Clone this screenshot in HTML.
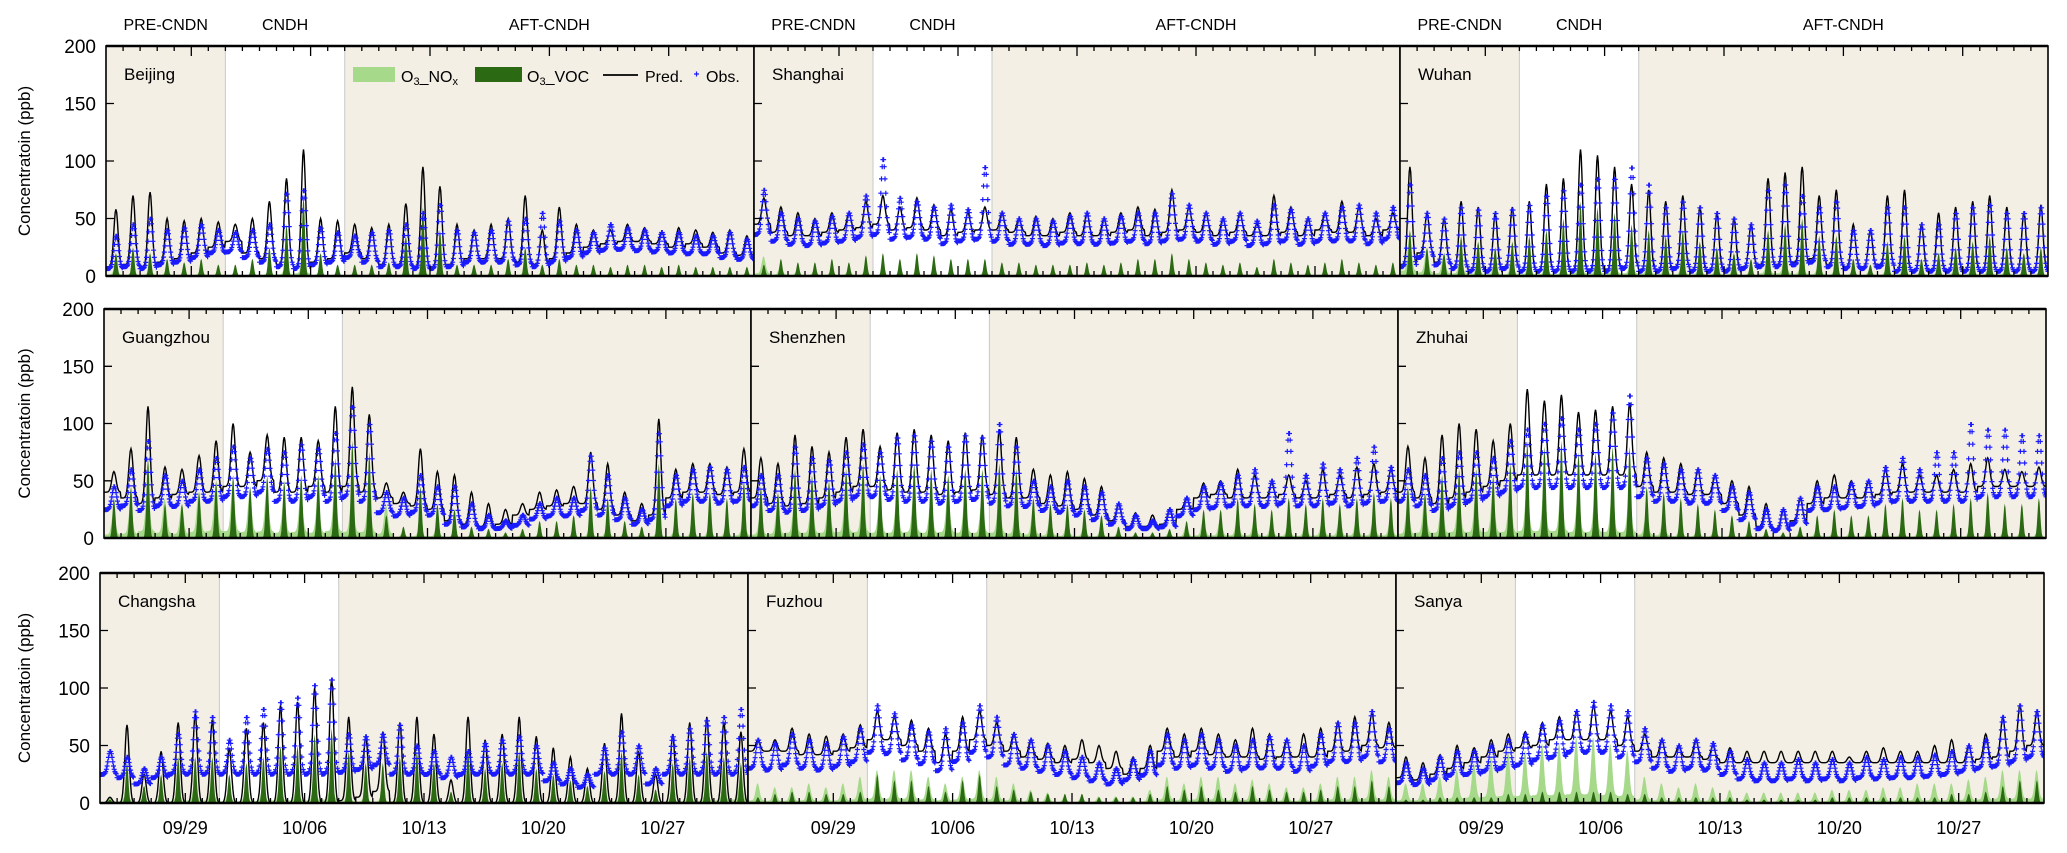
<!DOCTYPE html>
<html><head><meta charset="utf-8">
<style>
html,body{margin:0;padding:0;background:#fff;}
svg{display:block;font-family:"Liberation Sans",sans-serif;}
</style></head>
<body>
<svg id="chart" width="2067" height="853" viewBox="0 0 2067 853" xmlns="http://www.w3.org/2000/svg"></svg>
<script>
// ---- data (daily values, 09/24 .. 10/31, 38 days) ----
const cities = ["Beijing","Shanghai","Wuhan","Guangzhou","Shenzhen","Zhuhai","Changsha","Fuzhou","Sanya"];
const dateLabels = ["09/29","10/06","10/13","10/20","10/27"];
const dateTickDays = [5,12,19,26,33];
const yTicks = [0,50,100,150,200];
const periodLabels = ["PRE-CNDN","CNDH","AFT-CNDH"];
const periodStartDay = 7, periodEndDay = 14, nDays = 38;

const predPeak = [
 [58,70,73,50,48,50,47,45,50,65,85,110,50,48,45,42,45,63,95,78,45,40,45,50,70,40,60,45,40,40,45,42,38,42,40,38,40,35],
 [68,60,55,50,55,55,65,70,60,68,62,58,55,60,55,50,52,50,55,55,50,55,60,58,75,60,55,50,55,45,70,60,50,55,65,60,50,55],
 [95,55,50,65,60,55,60,65,80,85,110,105,95,80,75,65,70,60,55,50,45,85,90,95,70,75,45,40,70,75,45,55,60,65,70,60,55,62],
 [58,78,115,62,60,72,85,100,75,90,88,88,85,115,132,108,48,40,78,58,55,40,30,25,30,40,42,45,75,65,40,30,104,60,65,65,62,78],
 [70,65,90,80,75,88,95,80,92,95,90,85,92,90,95,88,60,55,58,52,45,30,22,20,25,35,48,50,60,55,48,55,50,60,55,62,65,60],
 [80,70,90,100,95,85,100,130,120,125,110,112,115,118,75,70,65,60,55,50,45,30,25,35,50,55,50,50,60,65,55,55,60,65,70,60,58,62],
 [5,68,25,45,70,78,72,48,65,70,85,88,100,108,75,58,62,70,75,60,20,75,55,60,75,58,48,40,30,52,78,45,25,60,70,75,70,62],
 [55,55,65,60,58,60,68,80,75,72,65,60,75,80,70,60,55,52,50,55,50,45,40,50,65,60,65,60,55,65,60,55,60,65,70,75,78,70],
 [40,35,42,50,48,55,60,62,70,75,80,85,80,75,60,55,50,55,50,48,45,45,45,45,45,45,40,45,48,45,45,50,55,50,60,75,85,80]
];
const obsPeak = [
 [35,45,50,40,42,45,40,38,40,45,72,75,42,38,35,38,40,45,55,62,40,38,40,48,50,55,48,40,38,45,42,40,38,38,35,35,38,32],
 [75,55,50,48,52,55,70,102,68,65,60,62,58,95,55,50,50,48,52,55,50,52,55,55,72,62,55,50,55,48,62,58,50,55,60,62,55,60],
 [80,55,50,60,58,55,58,62,70,75,80,85,85,95,80,60,65,60,55,50,45,75,80,70,60,65,40,40,60,60,45,45,55,60,62,55,55,60],
 [45,60,85,55,50,60,70,80,70,78,75,82,78,92,115,100,40,35,55,45,45,30,20,15,20,30,35,35,72,55,35,25,92,55,60,62,60,62],
 [55,55,80,70,68,75,82,75,88,90,85,80,90,88,100,80,50,45,50,45,40,30,20,15,25,35,45,48,55,60,50,92,55,65,60,70,80,62],
 [60,55,70,75,75,70,85,95,100,105,95,100,110,125,70,65,60,60,55,45,40,25,25,35,45,45,48,50,62,70,60,75,75,100,95,95,90,90],
 [45,40,30,40,60,80,75,55,75,82,88,92,103,108,60,58,60,68,50,45,40,45,52,55,58,50,35,30,25,48,62,50,30,58,65,72,75,82],
 [55,52,60,55,52,58,65,85,78,68,62,65,70,85,75,60,55,50,45,40,35,30,38,45,60,55,60,55,50,55,58,55,50,60,70,70,80,65],
 [35,30,40,45,45,50,55,60,68,72,80,88,85,80,65,55,50,55,52,45,38,35,35,38,35,38,35,40,38,40,40,42,45,50,55,75,85,80]
];
const basePred = [
 [8,10,8,12,15,20,25,30,20,15,10,8,12,15,20,15,10,10,8,8,10,15,15,15,12,10,15,20,25,28,30,30,28,25,28,25,20,18],
 [45,38,35,35,38,40,42,45,40,42,40,35,38,40,40,38,35,35,38,35,35,38,40,35,38,40,38,35,38,35,35,38,35,40,38,38,35,40],
 [10,20,12,8,5,5,8,5,5,5,5,5,5,8,5,5,8,5,5,5,8,10,10,12,15,10,8,8,10,5,5,5,5,5,5,5,5,5],
 [40,35,30,35,38,40,40,45,45,50,40,40,45,40,45,40,35,30,28,25,15,12,10,12,20,25,28,30,30,25,20,15,20,35,40,40,38,40],
 [35,30,28,30,35,40,45,45,42,40,40,38,40,42,38,35,35,30,28,25,20,15,10,10,12,25,35,38,35,35,35,38,35,35,38,35,38,40],
 [40,35,30,35,40,45,50,55,55,55,55,55,55,55,45,40,40,38,38,30,20,10,8,15,30,35,35,35,38,40,40,40,40,40,45,45,45,45],
 [0,0,0,0,0,0,0,0,0,0,0,0,0,0,2,5,10,0,0,0,0,0,0,0,0,0,0,0,0,0,0,0,0,0,0,0,0,0],
 [45,45,45,42,42,45,48,55,55,50,45,35,45,55,50,45,40,38,35,38,35,30,25,30,45,40,45,42,40,40,38,40,40,40,45,45,50,48],
 [22,20,25,30,35,40,45,48,50,55,55,55,55,50,45,40,40,40,38,35,35,35,35,35,35,35,35,35,35,35,35,35,35,35,38,40,45,50]
];
const noxPeak = [
 [8,5,5,5,3,5,3,3,3,5,10,15,5,3,3,3,3,5,10,5,3,3,3,3,5,3,3,3,3,3,3,3,3,3,3,3,3,3],
 [15,8,5,5,5,5,5,3,3,3,3,3,3,5,3,3,3,3,3,3,3,3,3,3,3,3,3,3,3,3,3,3,3,3,3,3,3,3],
 [30,20,15,15,10,10,10,10,10,10,15,15,15,15,12,10,10,8,8,8,5,15,15,12,10,8,5,5,8,8,5,5,8,8,8,8,5,5],
 [20,25,40,30,25,35,40,40,35,38,30,35,30,40,35,35,25,5,10,10,5,3,3,3,5,5,5,5,10,10,5,5,10,10,10,10,10,15],
 [20,25,30,30,30,35,35,30,30,35,30,35,30,30,30,25,20,15,12,10,8,5,3,3,5,10,15,15,15,15,12,12,12,15,15,15,15,15],
 [25,30,30,35,35,35,35,40,40,40,35,35,35,35,20,15,10,8,8,5,5,3,3,5,8,8,8,8,8,8,8,8,8,8,8,8,8,8],
 [5,10,5,5,10,15,15,10,10,12,15,15,15,20,10,8,8,10,8,5,3,5,5,5,8,5,3,3,3,5,10,5,3,8,10,12,15,20],
 [15,12,12,15,12,15,20,25,25,25,20,15,20,25,20,15,10,8,5,5,5,5,5,10,20,15,20,20,15,18,15,12,12,15,20,20,25,20],
 [15,15,20,25,30,35,40,40,45,45,50,50,45,40,20,15,12,15,12,10,8,8,8,8,8,10,10,10,12,12,15,15,15,18,20,25,25,25]
];
const vocPeak = [
 [20,25,20,15,12,15,10,10,15,25,45,70,20,10,10,10,12,35,60,40,10,10,10,15,25,10,15,10,10,8,10,10,8,10,8,8,8,8],
 [10,15,12,12,15,12,18,20,15,20,18,15,15,15,12,12,10,10,10,12,10,12,15,15,20,15,12,10,12,8,15,12,10,12,15,12,10,12],
 [40,25,20,35,30,25,30,35,40,50,65,60,55,45,40,35,40,30,25,20,15,40,45,50,35,35,15,10,30,35,15,20,25,30,35,25,20,25],
 [35,45,70,30,30,40,50,55,45,55,50,55,55,70,85,75,20,10,45,30,25,10,8,5,8,15,15,20,45,35,15,10,65,35,40,40,35,50],
 [45,40,60,55,50,60,65,55,60,65,60,55,60,60,65,60,35,30,30,25,20,10,5,5,8,15,25,25,35,30,25,35,30,35,30,35,40,35],
 [45,40,55,60,60,55,65,85,80,85,75,75,80,80,45,40,35,30,25,20,15,8,5,10,20,25,20,20,30,35,25,25,30,35,40,30,30,35],
 [3,35,15,25,40,40,40,25,35,40,50,50,60,65,45,35,35,40,45,35,10,45,30,35,45,30,25,20,15,28,45,25,12,35,40,45,40,35],
 [5,8,10,10,8,8,10,25,20,20,15,10,20,25,15,12,10,8,8,8,5,5,5,8,15,12,15,12,10,15,12,10,10,12,15,15,20,15],
 [3,3,5,5,5,5,8,8,10,10,10,10,10,8,8,5,5,5,5,5,3,3,3,3,3,5,5,5,5,5,5,5,8,8,10,15,20,20]
];

// ---- layout ----
const NS = "http://www.w3.org/2000/svg";
const svg = document.getElementById("chart");
const rows = [{top:46,bot:276,xs:[106,754,1400,2048]},{top:309,bot:538,xs:[104,751,1398,2046]},{top:573,bot:803,xs:[100,748,1396,2044]}];
function mk(tag, attrs, parent){const e=document.createElementNS(NS,tag);for(const k in attrs)e.setAttribute(k,attrs[k]);(parent||svg).appendChild(e);return e;}

function yLabel(r){const t=mk("text",{x:0,y:0,"font-size":"17","text-anchor":"middle",transform:"translate(30,"+((rows[r].top+rows[r].bot)/2)+") rotate(-90)"});t.textContent="Concentratoin (ppb)";}

for(let r=0;r<3;r++){
  yLabel(r);
  const R=rows[r];
  for(let c=0;c<3;c++){
    const ci=r*3+c, x0=R.xs[c], x1=R.xs[c+1], y0=R.top, y1=R.bot;
    const xS=d=>x0+(d/nDays)*(x1-x0);
    const yS=v=>y1-Math.max(0,Math.min(200,v))/200*(y1-y0);
    const g=mk("g",{});
    
    
    const cid="clip"+ci;
    const cp=mk("clipPath",{id:cid},g);mk("rect",{x:x0,y:y0,width:x1-x0,height:y1-y0},cp);
    mk("rect",{x:x0,y:y0,width:x1-x0,height:y1-y0,fill:"#f3efe5"},g);
    mk("rect",{x:xS(periodStartDay),y:y0,width:xS(periodEndDay)-xS(periodStartDay),height:y1-y0,fill:"#ffffff"},g);
    mk("line",{x1:xS(periodStartDay),x2:xS(periodStartDay),y1:y0,y2:y1,stroke:"#c8c8c8","stroke-width":1},g);
    mk("line",{x1:xS(periodEndDay),x2:xS(periodEndDay),y1:y0,y2:y1,stroke:"#c8c8c8","stroke-width":1},g);
    const pg=mk("g",{"clip-path":"url(#"+cid+")"},g);
    const N=nDays*24;
    const sh=h=>Math.exp(-Math.pow((h-14)/4.2,2));
    const shN=h=>Math.exp(-Math.pow((h-13.5)/3.8,2));
    const shV=h=>Math.exp(-Math.pow((h-14)/2.8,2));
    let nox="M"+xS(0)+","+y1, voc="M"+xS(0)+","+y1, pred="", obsPts=[];
    for(let i=0;i<=N;i++){
      const d=Math.min(nDays-1,Math.floor(i/24)), h=i%24, t=i/24;
      const x=xS(t);
      const vn=noxPeak[ci][d]*shN(h)+noxPeak[ci][d]*0.15;
      const vv=vocPeak[ci][d]*shV(h);
      nox+=" L"+x.toFixed(1)+","+yS(vn).toFixed(1);
      voc+=" L"+x.toFixed(1)+","+yS(vv).toFixed(1);
      const b=basePred[ci][d];
      const vp=b+(predPeak[ci][d]-b)*sh(h);
      pred+=(i?" L":"M")+x.toFixed(1)+","+yS(vp).toFixed(1);
      const ob=Math.min(b*0.8+ (ci==6?25:0), obsPeak[ci][d]*0.55);
      const vo=ob+(obsPeak[ci][d]-ob)*Math.exp(-Math.pow((h-14.5)/4.5,2));
      obsPts.push([x,yS(vo)]);
    }
    nox+=" L"+xS(nDays)+","+y1+" Z"; voc+=" L"+xS(nDays)+","+y1+" Z";
    const a1=mk("path",{d:nox,fill:"#a6d98a"},pg);
    const a2=mk("path",{d:voc,fill:"#2b6a12"},pg);
    const l=mk("path",{d:pred,fill:"none",stroke:"#000","stroke-width":1.4},pg);
    let od="";for(const [x,y] of obsPts){od+="M"+(x-2.5).toFixed(1)+","+y.toFixed(1)+"h5M"+x.toFixed(1)+","+(y-2.5).toFixed(1)+"v5";}
    const o=mk("path",{d:od,stroke:"#1a1aff","stroke-width":1.2,fill:"none"},pg);
    let tk="";
    for(let d=1;d<nDays;d++){const x=xS(d).toFixed(1);const big=dateTickDays.includes(d);const L=big?10:5;tk+="M"+x+","+y0+"v"+L+"M"+x+","+y1+"v-"+L;}
    for(const v of yTicks.slice(1,4)){const y=yS(v).toFixed(1);tk+="M"+x0+","+y+"h8";}
    mk("path",{d:tk,stroke:"#000","stroke-width":1.3,fill:"none"},g);
    mk("rect",{x:x0,y:y0,width:x1-x0,height:y1-y0,fill:"none",stroke:"#000","stroke-width":1.6},g);
    mk("line",{x1:x0,x2:x1,y1:y0,y2:y0,stroke:"#000","stroke-width":2.5},g);
    mk("line",{x1:x0,x2:x1,y1:y1,y2:y1,stroke:"#000","stroke-width":2.5},g);
    const nm=mk("text",{x:x0+18,y:y0+34,"font-size":"17"},g);nm.textContent=cities[ci];
    
    if(c===0){for(const v of yTicks){const t=mk("text",{x:x0-10,y:yS(v)+7,"font-size":"19","text-anchor":"end"},g);t.textContent=v;}}
    if(r===0){
      const cx=[(xS(0)+xS(periodStartDay))/2,(xS(periodStartDay)+xS(periodEndDay))/2,(xS(periodEndDay)+xS(nDays))/2];
      for(let p=0;p<3;p++){const t=mk("text",{x:cx[p],y:30,"font-size":"16","text-anchor":"middle"},g);t.textContent=periodLabels[p];}
    }
    if(r===2){
      for(let k=0;k<dateLabels.length;k++){const t=mk("text",{x:xS(dateTickDays[k]),y:834,"font-size":"18","text-anchor":"middle"},g);t.textContent=dateLabels[k];}
    }
  }
}
const lg=mk("g",{});


mk("rect",{x:353,y:67,width:42,height:15,fill:"#a6d98a"},lg);
const t1=mk("text",{x:401,y:82,"font-size":"16"},lg);t1.innerHTML='O<tspan font-size="11" dy="3">3</tspan><tspan dy="-3">_NO</tspan><tspan font-size="11" dy="3">x</tspan>';
mk("rect",{x:475,y:67,width:47,height:15,fill:"#2b6a12"},lg);
const t2=mk("text",{x:527,y:82,"font-size":"16"},lg);t2.innerHTML='O<tspan font-size="11" dy="3">3</tspan><tspan dy="-3">_VOC</tspan>';
mk("line",{x1:603,x2:638,y1:75,y2:75,stroke:"#000","stroke-width":1.8},lg);
const t3=mk("text",{x:645,y:82,"font-size":"16"},lg);t3.textContent="Pred.";
mk("path",{d:"M694,74h5M696.5,71.5v5",stroke:"#1a1aff","stroke-width":1.2},lg);
const t4=mk("text",{x:706,y:82,"font-size":"16"},lg);t4.textContent="Obs.";
</script>
</body></html>
